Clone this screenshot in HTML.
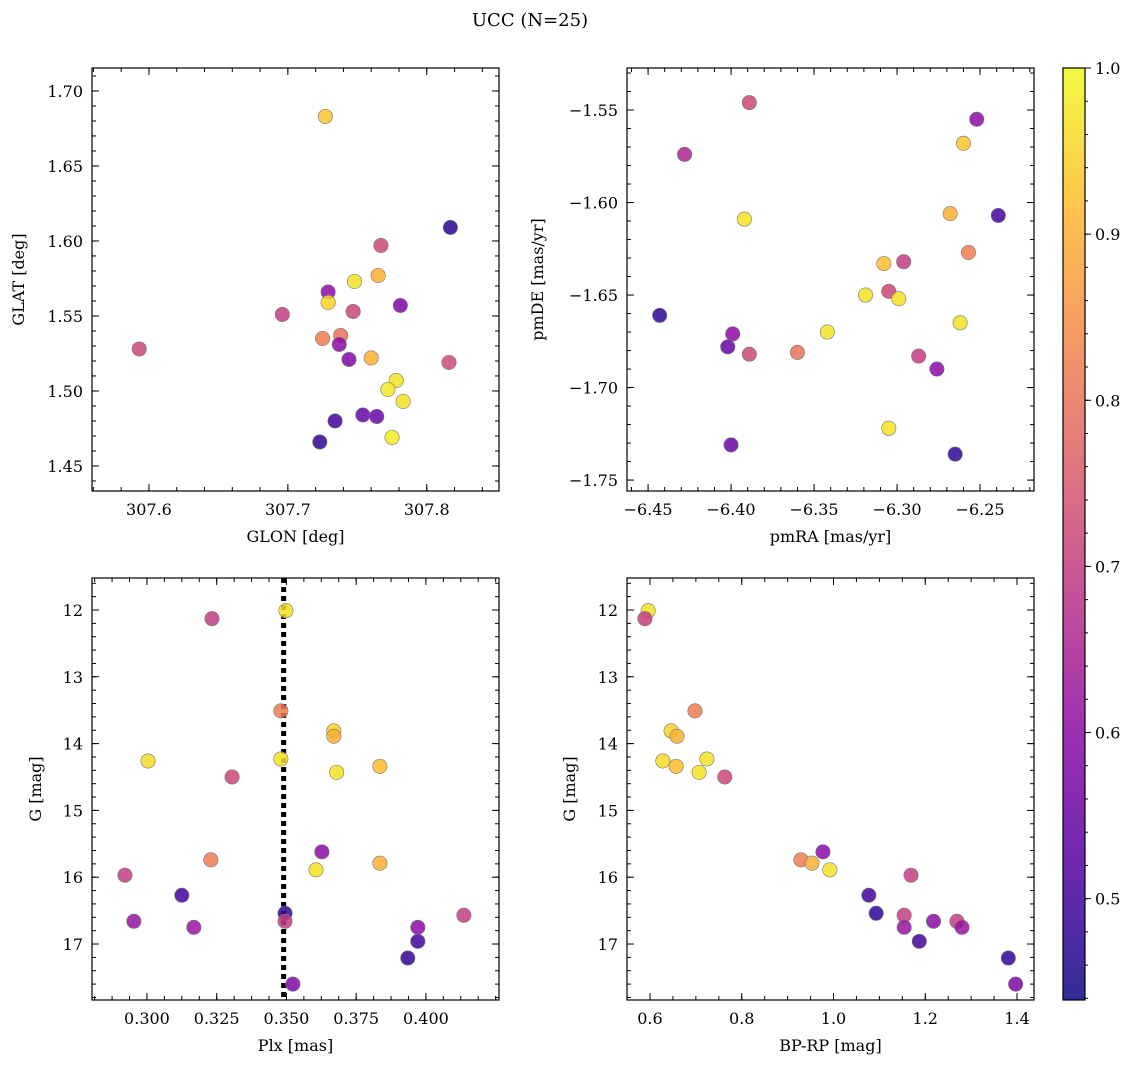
<!DOCTYPE html>
<html><head><meta charset="utf-8">
<style>
html,body{margin:0;padding:0;background:#fff;}
svg{display:block;font-family:"DejaVu Serif","Liberation Serif",serif;}
</style></head>
<body>
<svg id="fig" width="1136" height="1068" viewBox="0 0 1136 1068" xmlns="http://www.w3.org/2000/svg">
<text x="530" y="26" font-size="18" text-anchor="middle">UCC (N=25)</text>
</svg>
<script>
// ---- data ----
const tlGlon = [307.727,307.817,307.767,307.748,307.765,307.729,307.729,307.747,307.696,307.781,307.738,307.725,307.737,307.593,307.760,307.744,307.816,307.778,307.772,307.783,307.734,307.754,307.764,307.723,307.775];
const tlGlat = [1.683,1.609,1.597,1.573,1.577,1.566,1.559,1.553,1.551,1.557,1.537,1.535,1.531,1.528,1.522,1.521,1.519,1.507,1.501,1.493,1.480,1.484,1.483,1.466,1.469];
const tlProb = [0.93,0.47,0.72,0.97,0.9,0.6,0.95,0.72,0.7,0.58,0.8,0.82,0.6,0.72,0.9,0.58,0.73,0.97,0.98,0.97,0.5,0.55,0.55,0.48,0.98];

const trPmra = [-6.389,-6.252,-6.428,-6.260,-6.392,-6.239,-6.268,-6.257,-6.308,-6.296,-6.319,-6.305,-6.299,-6.443,-6.342,-6.262,-6.399,-6.402,-6.360,-6.389,-6.287,-6.276,-6.305,-6.400,-6.265];
const trPmde = [-1.546,-1.555,-1.574,-1.568,-1.609,-1.607,-1.606,-1.627,-1.633,-1.632,-1.650,-1.648,-1.652,-1.661,-1.670,-1.665,-1.671,-1.678,-1.681,-1.682,-1.683,-1.690,-1.722,-1.731,-1.736];
const trProb = [0.72,0.6,0.65,0.93,0.97,0.5,0.9,0.82,0.92,0.7,0.97,0.72,0.97,0.48,0.97,0.97,0.6,0.55,0.8,0.72,0.7,0.6,0.97,0.55,0.48];

const blPlx = [0.3498,0.3233,0.348,0.367,0.367,0.348,0.3004,0.3835,0.368,0.3305,0.3627,0.3229,0.3835,0.3606,0.2921,0.3125,0.3495,0.3495,0.2953,0.3168,0.3971,0.4136,0.3971,0.3935,0.3523];
const blG = [12.01,12.13,13.51,13.81,13.89,14.23,14.26,14.34,14.43,14.50,15.62,15.74,15.79,15.89,15.97,16.27,16.54,16.66,16.66,16.75,16.75,16.57,16.96,17.21,17.60];
const blProb = [0.97,0.7,0.82,0.95,0.9,0.97,0.96,0.92,0.97,0.72,0.6,0.82,0.9,0.97,0.7,0.5,0.48,0.7,0.62,0.62,0.6,0.7,0.5,0.48,0.58];
const plxMedian = 0.349;

const brBprp = [0.596,0.589,0.698,0.646,0.659,0.724,0.628,0.657,0.707,0.763,0.977,0.929,0.953,0.992,1.169,1.077,1.093,1.154,1.269,1.218,1.154,1.280,1.187,1.381,1.397];
const brG = [12.01,12.13,13.51,13.81,13.89,14.23,14.26,14.34,14.43,14.50,15.62,15.74,15.79,15.89,15.97,16.27,16.54,16.57,16.66,16.66,16.75,16.75,16.96,17.21,17.60];
const brProb = [0.97,0.7,0.82,0.95,0.9,0.97,0.96,0.92,0.97,0.72,0.6,0.82,0.9,0.97,0.7,0.5,0.48,0.7,0.7,0.6,0.62,0.62,0.5,0.48,0.58];

const cbMin = 0.439, cbMax = 1.0;
const cbTicks = [0.5,0.6,0.7,0.8,0.9,1.0];

// ---- helpers ----
const NS = "http://www.w3.org/2000/svg";
const svg = document.getElementById('fig');
function mk(tag, attrs, parent){ const e=document.createElementNS(NS,tag); for(const k in attrs) e.setAttribute(k,attrs[k]); (parent||svg).appendChild(e); return e; }
const plasma = [[13,8,135],[84,2,163],[139,10,165],[185,50,137],[219,92,104],[244,136,73],[254,188,43],[240,249,33]];
function cmap(v){ let t=(v-cbMin)/(cbMax-cbMin); t=Math.max(0,Math.min(1,t)); const s=t*(plasma.length-1); const i=Math.min(plasma.length-2,Math.floor(s)); const f=s-i; const a=plasma[i],b=plasma[i+1]; return `rgb(${Math.round(a[0]+(b[0]-a[0])*f)},${Math.round(a[1]+(b[1]-a[1])*f)},${Math.round(a[2]+(b[2]-a[2])*f)})`; }
function fmt(v,d){ const s=v.toFixed(d); return s.startsWith('-')?'\u2212'+s.slice(1):s; }

function panel(o){
  const g = mk('g',{});
  
  
  const sx = v => o.L + (v-o.x0)/(o.x1-o.x0)*(o.R-o.L);
  const sy = v => o.T + (o.y1-v)/(o.y1-o.y0)*(o.B-o.T);
  const eps=1e-9;
  function ticks(lo,hi,step){ const a=[]; const s=Math.ceil((Math.min(lo,hi)-eps)/step); for(let k=s; k*step<=Math.max(lo,hi)+eps; k++) a.push(k*step); return a; }
  ticks(o.x0,o.x1,o.xminor).forEach(v=>{ const x=sx(v); mk('line',{x1:x,x2:x,y1:o.B,y2:o.B-4,stroke:'#000','stroke-width':1},g); mk('line',{x1:x,x2:x,y1:o.T,y2:o.T+4,stroke:'#000','stroke-width':1},g); });
  ticks(o.y0,o.y1,o.yminor).forEach(v=>{ const y=sy(v); mk('line',{x1:o.L,x2:o.L+4,y1:y,y2:y,stroke:'#000','stroke-width':1},g); mk('line',{x1:o.R,x2:o.R-4,y1:y,y2:y,stroke:'#000','stroke-width':1},g); });
  o.xt.forEach(v=>{ const x=sx(v); mk('line',{x1:x,x2:x,y1:o.B,y2:o.B-7,stroke:'#000','stroke-width':1},g); mk('line',{x1:x,x2:x,y1:o.T,y2:o.T+7,stroke:'#000','stroke-width':1},g);
    const t=mk('text',{x:x,y:o.B+24,'font-size':16,'text-anchor':'middle'},g); t.textContent=fmt(v,o.xd);
      });
  o.yt.forEach(v=>{ const y=sy(v); mk('line',{x1:o.L,x2:o.L+7,y1:y,y2:y,stroke:'#000','stroke-width':1},g); mk('line',{x1:o.R,x2:o.R-7,y1:y,y2:y,stroke:'#000','stroke-width':1},g);
    const t=mk('text',{x:o.L-9,y:y+6,'font-size':16,'text-anchor':'end'},g); t.textContent=fmt(v,o.yd);
      });
  const xl=mk('text',{x:(o.L+o.R)/2,y:o.B+51,'font-size':16,'text-anchor':'middle'},g); xl.textContent=o.xlabel;
   
  const yl=mk('text',{x:0,y:0,'font-size':16,'text-anchor':'middle',transform:`translate(${o.ylx},${(o.T+o.B)/2}) rotate(-90)`},g); yl.textContent=o.ylabel;
   
  if(o.vline!==undefined){ const x=sx(o.vline); const l=mk('line',{x1:x,x2:x,y1:o.T,y2:o.B,stroke:'#000','stroke-width':5,'stroke-dasharray':'5,4'},g);
      }
  o.xs.forEach((v,i)=>{ const c=mk('circle',{cx:sx(v),cy:sy(o.ys[i]),r:7.2,fill:cmap(o.cs[i]),'fill-opacity':0.85,stroke:'#777','stroke-width':0.6},g);
      });
  const fr=mk('rect',{x:o.L,y:o.T,width:o.R-o.L,height:o.B-o.T,fill:'none',stroke:'#000','stroke-width':1.2},g);
   
}

panel({name:'glon-glat-panel',L:92,R:499,T:68,B:491,x0:307.559,x1:307.852,y0:1.4333,y1:1.7153,
  xt:[307.6,307.7,307.8],xd:1,xminor:0.02,yt:[1.45,1.5,1.55,1.6,1.65,1.7],yd:2,yminor:0.01,
  xlabel:'GLON [deg]',ylabel:'GLAT [deg]',ylx:24,xs:tlGlon,ys:tlGlat,cs:tlProb});
panel({name:'pm-panel',L:627,R:1034,T:68,B:491,x0:-6.4627,x1:-6.2175,y0:-1.7559,y1:-1.5273,
  xt:[-6.45,-6.4,-6.35,-6.3,-6.25],xd:2,xminor:0.01,yt:[-1.75,-1.7,-1.65,-1.6,-1.55],yd:2,yminor:0.01,
  xlabel:'pmRA [mas/yr]',ylabel:'pmDE [mas/yr]',ylx:543,xs:trPmra,ys:trPmde,cs:trProb});
panel({name:'plx-g-panel',L:92,R:499,T:578,B:1000,x0:0.2803,x1:0.4262,y0:17.838,y1:11.521,
  xt:[0.3,0.325,0.35,0.375,0.4],xd:3,xminor:0.00625,yt:[12,13,14,15,16,17],yd:0,yminor:0.2,
  xlabel:'Plx [mas]',ylabel:'G [mag]',ylx:41,xs:blPlx,ys:blG,cs:blProb,vline:plxMedian});
panel({name:'cmd-panel',L:627,R:1034,T:578,B:1000,x0:0.5499,x1:1.437,y0:17.838,y1:11.521,
  xt:[0.6,0.8,1.0,1.2,1.4],xd:1,xminor:0.05,yt:[12,13,14,15,16,17],yd:0,yminor:0.2,
  xlabel:'BP-RP [mag]',ylabel:'G [mag]',ylx:575,xs:brBprp,ys:brG,cs:brProb});

// colorbar
(function(){
  const L=1063,R=1085,T=68,B=1000;
  const g=mk('g',{});
  
  
  const defs=mk('defs',{},g);
  const lg=mk('linearGradient',{id:'cbg',x1:0,y1:1,x2:0,y2:0},defs);
  for(let i=0;i<=20;i++){ const v=cbMin+(cbMax-cbMin)*i/20; mk('stop',{offset:(i/20),'stop-color':cmap(v),'stop-opacity':0.85},lg); }
  mk('rect',{x:L,y:T,width:R-L,height:B-T,fill:'url(#cbg)'},g);
  const sy=v=>B-(v-cbMin)/(cbMax-cbMin)*(B-T);
  for(let k=Math.ceil(cbMin/0.02);k*0.02<=cbMax+1e-9;k++){ const y=sy(k*0.02); mk('line',{x1:R,x2:R+3,y1:y,y2:y,stroke:'#000','stroke-width':1},g); }
  cbTicks.forEach(v=>{ const y=sy(v); mk('line',{x1:R,x2:R+6,y1:y,y2:y,stroke:'#000','stroke-width':1},g);
    const t=mk('text',{x:R+10,y:y+6,'font-size':16},g); t.textContent=v.toFixed(1);
      });
  mk('rect',{x:L,y:T,width:R-L,height:B-T,fill:'none',stroke:'#000','stroke-width':1.2},g);
})();
</script>
</body></html>
